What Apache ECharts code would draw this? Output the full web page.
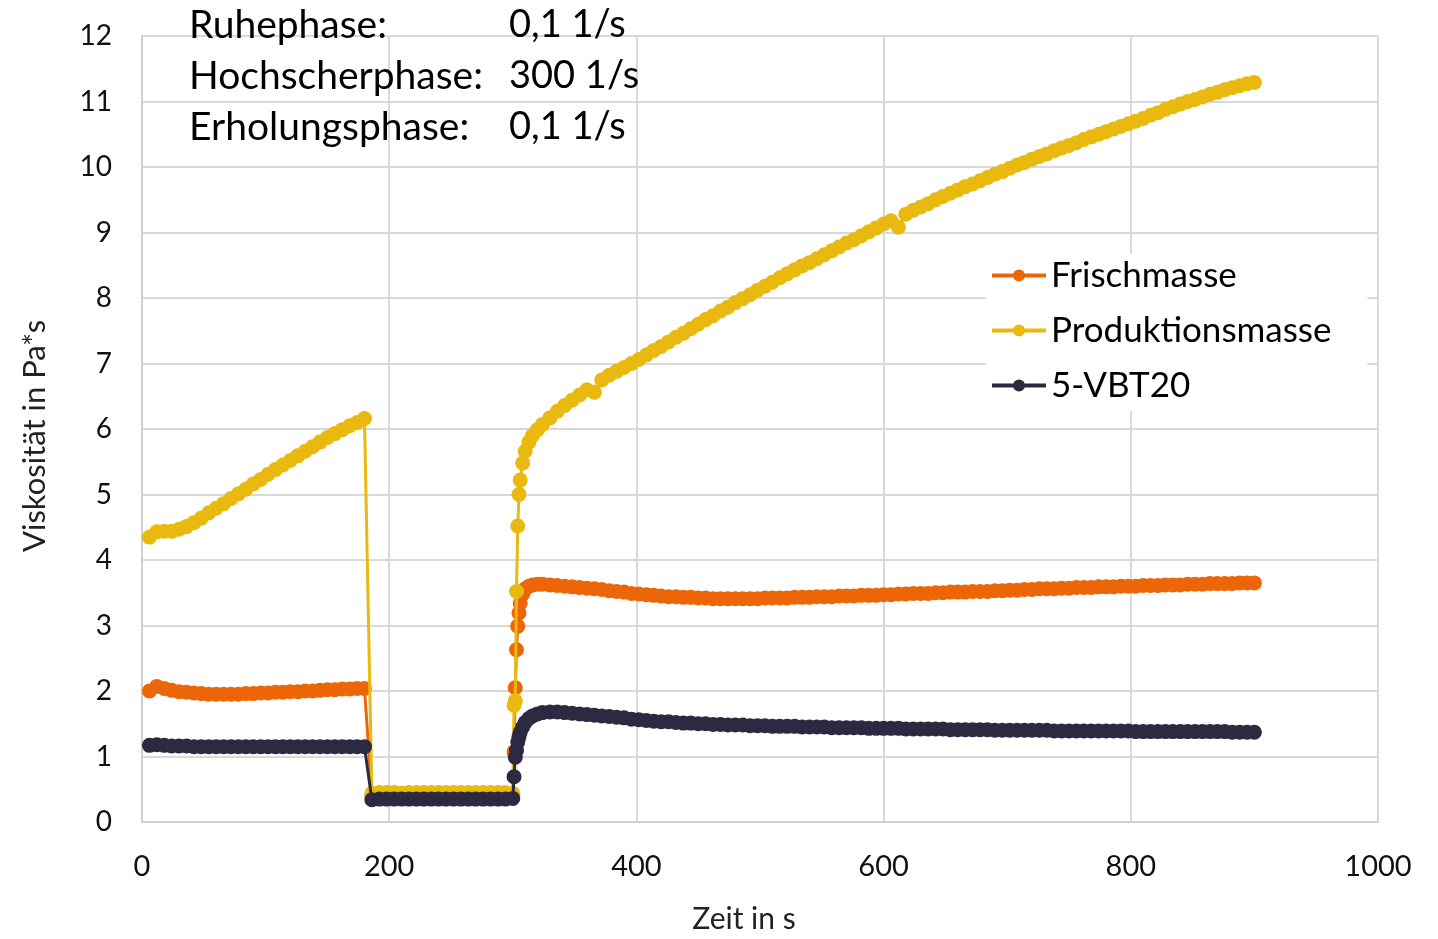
<!DOCTYPE html>
<html>
<head>
<meta charset="utf-8">
<script src="https://cdn.jsdelivr.net/npm/echarts@6/dist/echarts.min.js"></script>
<style>
html,body{margin:0;padding:0;background:#fff;overflow:hidden;}
#chart{width:1438px;height:939px;}
</style>
</head>
<body>
<div id="chart"></div>
<script>
// ---- Data ----
const seriesNames = ['Frischmasse', 'Produktionsmasse', '5-VBT20'];
const xTicks = [0, 200, 400, 600, 800, 1000];
const yTicks = [0, 1, 2, 3, 4, 5, 6, 7, 8, 9, 10, 11, 12];
const annotationLabels = ['Ruhephase:', 'Hochscherphase:', 'Erholungsphase:'];
const annotationValues = ['0,1 1/s', '300 1/s', '0,1 1/s'];

// time in s
const time = [
  6,12,18,24,30,36,42,48,54,60,66,72,78,84,90,96,102,108,114,120,126,132,138,144,150,156,162,168,174,180,
  186,192,198,204,210,216,222,228,234,240,246,252,258,264,270,276,282,288,294,300,
  301,302,303,304,305,306,308,310,313,316,320,324,
  330,336,342,348,354,360,366,372,378,384,390,396,
  402,408,414,420,426,432,438,444,450,
  456,462,468,474,480,486,492,498,504,
  510,516,522,528,534,540,546,552,558,
  564,570,576,582,588,594,600,606,612,
  618,624,630,636,642,648,654,660,666,
  672,678,684,690,696,702,708,714,720,
  726,732,738,744,750,756,762,768,774,
  780,786,792,798,804,810,816,822,828,
  834,840,846,852,858,864,870,876,882,
  888,894,900
];

const frischmasse = [
  2.00,2.07,2.04,2.01,1.99,1.98,1.97,1.96,1.95,1.95,1.95,1.95,1.95,1.96,1.96,1.97,1.97,1.98,1.98,1.99,1.99,2.00,2.00,2.01,2.02,2.02,2.03,2.03,2.04,2.04,
  0.40,0.40,0.40,0.40,0.40,0.40,0.40,0.40,0.40,0.40,0.40,0.40,0.40,0.40,0.40,0.40,0.40,0.40,0.40,0.40,
  1.07,2.05,2.63,2.99,3.19,3.34,3.48,3.56,3.60,3.62,3.63,3.63,
  3.62,3.61,3.60,3.59,3.58,3.57,3.56,3.55,3.53,3.52,3.51,3.49,
  3.48,3.47,3.46,3.45,3.44,3.44,3.43,3.43,3.42,
  3.42,3.41,3.41,3.41,3.41,3.41,3.41,3.41,3.42,
  3.42,3.42,3.42,3.43,3.43,3.43,3.44,3.44,3.44,
  3.45,3.45,3.45,3.46,3.46,3.46,3.47,3.47,3.48,
  3.48,3.49,3.49,3.49,3.50,3.50,3.51,3.51,3.51,
  3.52,3.52,3.52,3.53,3.53,3.54,3.54,3.55,3.55,
  3.56,3.56,3.56,3.57,3.57,3.58,3.58,3.58,3.59,
  3.59,3.59,3.60,3.60,3.60,3.61,3.61,3.61,3.62,
  3.62,3.62,3.63,3.63,3.63,3.64,3.64,3.64,3.64,
  3.65,3.65,3.65
];

const produktionsmasse = [
  4.35,4.43,4.44,4.44,4.47,4.51,4.57,4.64,4.72,4.79,4.86,4.94,5.01,5.08,5.16,5.23,5.31,5.38,5.45,5.52,5.59,5.66,5.73,5.80,5.87,5.93,5.99,6.05,6.10,6.16,
  0.44,0.45,0.45,0.45,0.44,0.45,0.45,0.45,0.45,0.45,0.45,0.45,0.45,0.45,0.45,0.45,0.45,0.45,0.45,0.44,
  1.78,1.85,3.52,4.52,5.00,5.22,5.48,5.66,5.80,5.90,5.99,6.07,
  6.17,6.27,6.36,6.44,6.52,6.60,6.56,6.75,6.82,6.88,6.94,7.00,
  7.06,7.13,7.20,7.26,7.33,7.40,7.46,7.53,7.60,
  7.67,7.73,7.80,7.86,7.93,7.99,8.05,8.12,8.18,
  8.24,8.31,8.37,8.43,8.49,8.54,8.60,8.66,8.72,
  8.78,8.84,8.89,8.95,9.01,9.07,9.13,9.18,9.08,
  9.28,9.34,9.39,9.44,9.50,9.55,9.60,9.65,9.70,
  9.74,9.79,9.84,9.89,9.93,9.98,10.03,10.07,10.12,
  10.16,10.20,10.25,10.29,10.33,10.37,10.42,10.46,10.50,
  10.54,10.58,10.62,10.66,10.70,10.74,10.79,10.83,10.88,
  10.92,10.96,11.00,11.03,11.07,11.11,11.14,11.18,11.21,
  11.24,11.27,11.29
];

const vbt20 = [
  1.17,1.18,1.17,1.16,1.16,1.16,1.15,1.15,1.15,1.15,1.15,1.15,1.15,1.15,1.15,1.15,1.15,1.15,1.15,1.15,1.15,1.15,1.15,1.15,1.15,1.15,1.15,1.15,1.15,1.15,
  0.34,0.35,0.35,0.35,0.35,0.35,0.35,0.35,0.35,0.35,0.35,0.35,0.35,0.35,0.35,0.35,0.35,0.35,0.35,0.36,
  0.69,0.99,1.09,1.22,1.30,1.37,1.45,1.52,1.58,1.62,1.65,1.67,
  1.68,1.68,1.67,1.66,1.65,1.64,1.63,1.62,1.61,1.60,1.59,1.57,
  1.56,1.55,1.54,1.53,1.53,1.52,1.51,1.51,1.50,
  1.50,1.49,1.49,1.48,1.48,1.48,1.47,1.47,1.47,
  1.46,1.46,1.46,1.46,1.45,1.45,1.45,1.45,1.44,
  1.44,1.44,1.44,1.44,1.43,1.43,1.43,1.43,1.43,
  1.42,1.42,1.42,1.42,1.42,1.42,1.41,1.41,1.41,
  1.41,1.41,1.41,1.40,1.40,1.40,1.40,1.40,1.40,
  1.40,1.40,1.39,1.39,1.39,1.39,1.39,1.39,1.39,
  1.39,1.39,1.39,1.39,1.38,1.38,1.38,1.38,1.38,
  1.38,1.38,1.38,1.38,1.38,1.38,1.38,1.38,1.37,
  1.37,1.37,1.37
];

const seriesValues = [frischmasse, produktionsmasse, vbt20];
const colors = ['#EC6608', '#EAB90F', '#2C2941'];

// ---- Chart ----
const FONT = 'Lato';
const chart = echarts.init(document.getElementById('chart'), null, {renderer: 'canvas'});

function zip(xs, ys) { return xs.map((x, i) => [x, ys[i]]); }

const series = seriesNames.map((name, i) => ({
  name: name,
  type: 'line',
  data: zip(time, seriesValues[i]),
  symbol: 'circle',
  symbolSize: 15,
  showSymbol: true,
  showAllSymbol: true,
  lineStyle: {color: colors[i], width: 3},
  itemStyle: {color: colors[i], borderWidth: 0},
  emphasis: {disabled: true},
  z: 2 + i,
  animation: false
}));

const annotationGraphics = [];
annotationLabels.forEach((t, i) => {
  annotationGraphics.push({
    type: 'text', left: 189, top: 6 + i * 51, z: 100,
    style: {text: t, font: '39px ' + FONT, fill: '#000'}
  });
  annotationGraphics.push({
    type: 'text', left: 509, top: 6 + i * 51, z: 100,
    style: {text: annotationValues[i], font: '38px ' + FONT, fill: '#000'}
  });
});

chart.setOption({
  backgroundColor: '#fff',
  animation: false,
  color: colors,
  textStyle: {fontFamily: FONT},
  grid: {left: 142, right: 60, top: 36, bottom: 112, containLabel: false},
  legend: {
    orient: 'vertical',
    left: 986, top: 254,
    backgroundColor: '#fff',
    padding: [4, 36, 8, 4],
    itemWidth: 54, itemHeight: 15, itemGap: 20,
    lineStyle: {width: 4},
    textStyle: {fontSize: 35, fontFamily: FONT, color: '#000'},
    data: seriesNames
  },
  xAxis: {
    type: 'value', min: xTicks[0], max: xTicks[xTicks.length - 1], interval: xTicks[1] - xTicks[0],
    name: 'Zeit in s', nameLocation: 'middle', nameGap: 82,
    nameTextStyle: {fontSize: 30, fontFamily: FONT, color: '#222', padding: [0, 32, 0, 0]},
    axisLine: {lineStyle: {color: '#d0d0d0', width: 2}},
    axisTick: {show: false},
    axisLabel: {fontSize: 29, fontFamily: FONT, color: '#111', margin: 30, formatter: v => String(v)},
    splitLine: {show: true, lineStyle: {color: '#d9d9d9', width: 2}}
  },
  yAxis: {
    type: 'value', min: yTicks[0], max: yTicks[yTicks.length - 1], interval: yTicks[1] - yTicks[0],
    name: 'Viskosität in Pa*s', nameLocation: 'middle', nameGap: 92, nameRotate: 90,
    nameTextStyle: {fontSize: 31, fontFamily: FONT, color: '#222', padding: [0, 14, 0, 0]},
    axisLine: {show: true, lineStyle: {color: '#d0d0d0', width: 2}},
    axisTick: {show: false},
    axisLabel: {fontSize: 28, fontFamily: FONT, color: '#111', margin: 30},
    splitLine: {show: true, lineStyle: {color: '#d9d9d9', width: 2}}
  },
  graphic: annotationGraphics,
  series: series
});
</script>
</body>
</html>
